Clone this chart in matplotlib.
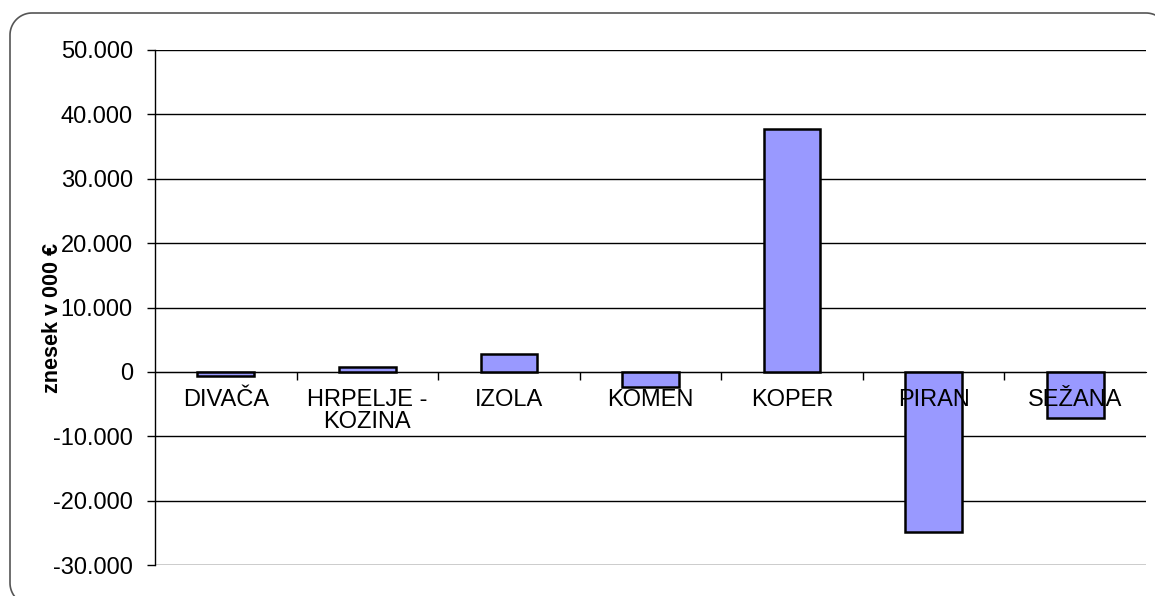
import matplotlib.pyplot as plt
from matplotlib.lines import Line2D
from matplotlib.ticker import FuncFormatter, FixedLocator
from matplotlib.transforms import IdentityTransform
import numpy as np

# municipalities and amounts (in 000 EUR)
municipalities = ['DIVAČA', 'HRPELJE -\nKOZINA', 'IZOLA', 'KOMEN', 'KOPER', 'PIRAN', 'SEŽANA']
amounts = [-650, 800, 2800, -2300, 37800, -24900, -7100]
y_ticks = [-30000, -20000, -10000, 0, 10000, 20000, 30000, 40000, 50000]


def fmt_thousands(v, pos):
    s = '{:,.0f}'.format(v).replace(',', '.')
    return s


def rounded_frame(x0, y0, x1, y1, r):
    # open outline: bottom-left corner -> left side -> top -> top-right corner
    def arc(cx, cy, a0, a1):
        t = np.radians(np.linspace(a0, a1, 20))
        return cx + r * np.cos(t), cy + r * np.sin(t)
    xs, ys = [], []
    for cx, cy, a0, a1 in [(x0 + r, y0 + r, 270, 180), (x0 + r, y1 - r, 180, 90),
                           (x1 - r, y1 - r, 90, 0)]:
        ax_, ay_ = arc(cx, cy, a0, a1)
        xs.extend(ax_)
        ys.extend(ay_)
    xs.append(x1)
    ys.append(y0 + r)
    return xs, ys


def main():
    plt.rcParams['font.family'] = ['Liberation Sans', 'DejaVu Sans']

    W, H = 1155, 596
    fig = plt.figure(figsize=(W / 100, H / 100), dpi=100)

    # rounded frame around the whole chart (cut off at right/bottom), in pixels
    fx, fy = rounded_frame(10, -9, 1168, H - 13, 22)
    fig.lines.append(Line2D(fx, fy, transform=IdentityTransform(), color='#555555',
                            linewidth=1.2, zorder=-10))

    ax = fig.add_axes([155 / W, (H - 565) / H, (1146 - 155) / W, (565 - 50) / H])
    ax.set_facecolor('none')

    x = np.arange(len(municipalities))
    ax.bar(x, amounts, width=0.4, color='#9999ff', edgecolor='black',
           linewidth=1.8, zorder=2)

    ax.set_xlim(-0.5, len(municipalities) - 0.5)
    ax.set_ylim(-30000, 50000)

    ax.set_yticks(y_ticks)
    ax.yaxis.set_major_formatter(FuncFormatter(fmt_thousands))
    ax.grid(axis='y', color='black', linewidth=1.0)
    ax.tick_params(axis='y', length=6, width=1, pad=10, labelsize=17)
    # gridlines behind the bars, category labels on top of them
    ax.yaxis.set_zorder(0.5)
    ax.xaxis.set_zorder(3)

    # category axis through zero, ticks between categories
    for side in ['top', 'right']:
        ax.spines[side].set_visible(False)
    ax.spines['bottom'].set_position(('data', 0))
    ax.spines['bottom'].set_zorder(1)
    ax.spines['left'].set_linewidth(1.0)
    ax.xaxis.set_major_locator(FixedLocator(np.arange(0.5, len(municipalities) - 0.5)))
    ax.xaxis.set_major_formatter(FuncFormatter(lambda v, p: ''))
    ax.xaxis.set_minor_locator(FixedLocator(x))
    ax.set_xticklabels(municipalities, minor=True, fontsize=17, linespacing=1.05,
                       va='top')
    ax.tick_params(axis='x', which='major', direction='out', length=6, width=1)
    ax.tick_params(axis='x', which='minor', length=0, pad=12)

    fig.text(52 / W, 1 - 318 / H, 'znesek v 000 €', rotation=90,
             ha='center', va='center', fontsize=15.5, fontweight='bold')

    fig.savefig('out.png', dpi=100)


if __name__ == '__main__':
    main()
